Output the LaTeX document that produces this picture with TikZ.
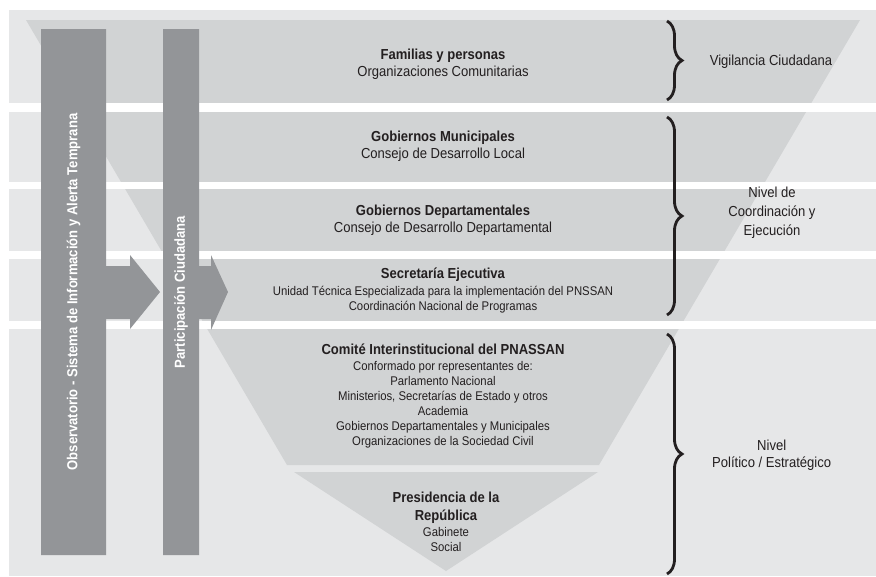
\documentclass[tikz,border=0pt]{standalone}
\usepackage{fontspec}
\setmainfont{Liberation Sans}[FakeStretch=0.9]
\usetikzlibrary{decorations.pathreplacing}
\definecolor{bandgray}{RGB}{230,231,232}
\definecolor{funnelgray}{RGB}{209,211,212}
\definecolor{bargray}{RGB}{147,149,152}
\definecolor{textblack}{RGB}{35,31,32}
\newcommand{\headtxt}[1]{{\fontsize{14.5}{17}\selectfont\bfseries #1}}
\newcommand{\smalltxt}{\fontsize{12.6}{15}\selectfont}
\begin{document}
\begin{tikzpicture}[x=1pt,y=-1pt]
\tikzstyle{band}=[fill=bandgray]
\tikzstyle{gap}=[fill=white]
\tikzstyle{funnel}=[fill=funnelgray]
\tikzstyle{bar}=[fill=bargray]
\tikzstyle{level}=[align=center, inner sep=0pt, text=textblack, font=\fontsize{14.5}{17}\selectfont]
\tikzstyle{bartext}=[rotate=90, inner sep=0pt, text=white, font=\fontsize{14.5}{17}\selectfont\bfseries]
\tikzstyle{brc}=[decorate, decoration={brace, amplitude=15pt}, line width=2.8pt, textblack]
    \useasboundingbox (0,0) rectangle (876,576);

    % bands and funnel
    \fill[band] (9,10) rectangle (876,576);
    \fill[funnel] (26,20) -- (860,20) -- (599,465) -- (287,465) -- cycle;
    \fill[funnel] (294,472) -- (598,472) -- (446,571) -- cycle;
    \foreach \ya/\yb in {103/112, 182/189, 251/259, 321/329}
        \fill[gap] (9,\ya) rectangle (876,\yb);

    % side bars with arrows
    \fill[bar] (41,29) -- (106,29) -- (106,266) -- (130,266) -- (130,255) -- (160,292)
        -- (130,329) -- (130,319) -- (106,319) -- (106,555) -- (41,555) -- cycle;
    \fill[bar] (163,29) -- (199,29) -- (199,266) -- (211,266) -- (211,255) -- (228,292)
        -- (211,330) -- (211,319) -- (199,319) -- (199,555) -- (163,555) -- cycle;
    \node[bartext] (obs) at (73.5,292) {Observatorio - Sistema de Información y Alerta Temprana};
    \node[bartext] (part) at (181,292) {Participación Ciudadana};

    \node[level] (familias) at (443,64) {\headtxt{Familias y personas}\\Organizaciones Comunitarias};
    \node[level] (municipal) at (443,146.7) {\headtxt{Gobiernos Municipales}\\Consejo de Desarrollo Local};
    \node[level] (departamental) at (443,220) {\headtxt{Gobiernos Departamentales}\\Consejo de Desarrollo Departamental};
    \node[level] (secretaria) at (443,290) {\headtxt{Secretaría Ejecutiva}\\{\smalltxt Unidad Técnica Especializada para la implementación del PNSSAN}\\[-2pt]{\smalltxt Coordinación Nacional de Programas}};
    \node[level, font=\smalltxt] (comite) at (443,396) {\headtxt{Comité Interinstitucional del PNASSAN}\\[1pt]Conformado por representantes de:\\Parlamento Nacional\\Ministerios, Secretarías de Estado y otros\\Academia\\Gobiernos Departamentales y Municipales\\Organizaciones de la Sociedad Civil};
    \node[level, font=\smalltxt] (presidencia) at (446,521.7) {\headtxt{Presidencia de la}\\[3pt]\headtxt{República}\\[0.7pt]Gabinete\\Social};

    \node[level, anchor=base] (vigilancia) at (771,65) {Vigilancia Ciudadana};
    \node[level] (coordinacion) at (772,212.5) {Nivel de\\[2pt]Coordinación y\\[2pt]Ejecución};
    \node[level] (politico) at (771.7,455) {Nivel\\Político / Estratégico};

    % braces
    \coordinate (b1t) at (667,21);
    \coordinate (b1b) at (667,100);
    \coordinate (b2t) at (667,117);
    \coordinate (b2b) at (667,315);
    \coordinate (b3t) at (667,334);
    \coordinate (b3b) at (667,574);
    \draw[brc] (b1t) -- (b1b);
    \draw[brc] (b2t) -- (b2b);
    \draw[brc] (b3t) -- (b3b);

\end{tikzpicture}
\end{document}
